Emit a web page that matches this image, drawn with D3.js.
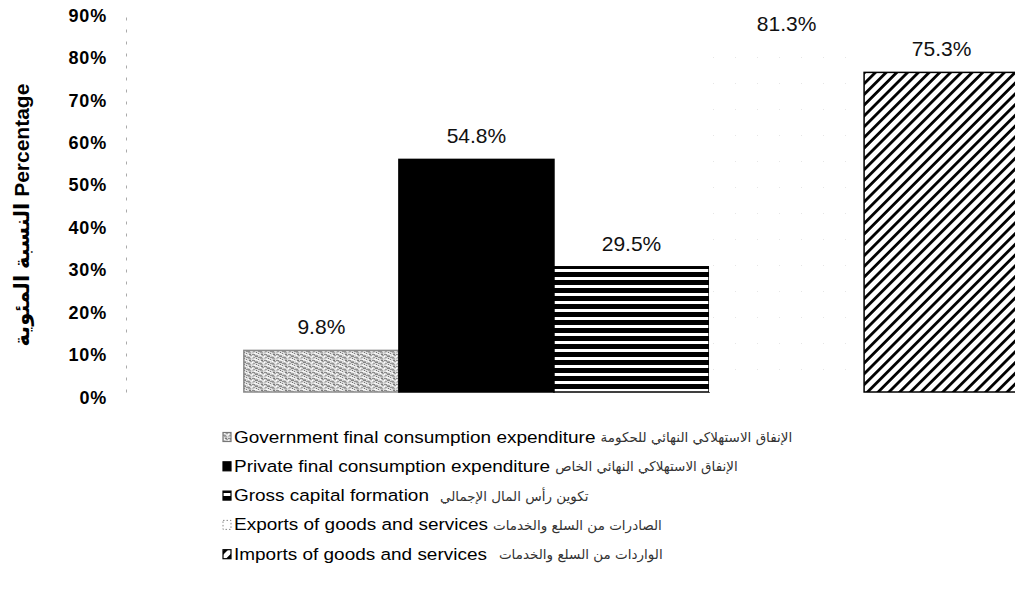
<!DOCTYPE html>
<html>
<head>
<meta charset="utf-8">
<script src="https://cdn.jsdelivr.net/npm/d3@7"></script>
<style>
  body { margin: 0; background: #fff; }
  svg { display: block; }
</style>
</head>
<body>
<svg id="chart" width="1015" height="605"></svg>
<script>
// GDP by expenditure components, share of GDP (%)
const categories = ["government", "private", "capital", "exports", "imports"];
const values = [9.8, 54.8, 29.5, 81.3, 75.3];
const valueLabels = ["9.8%", "54.8%", "29.5%", "81.3%", "75.3%"];
const legendEnglish = [
  "Government final consumption expenditure",
  "Private final consumption expenditure",
  "Gross capital formation",
  "Exports of goods and services",
  "Imports of goods and services"
];
const legendArabic = [
  "الإنفاق الاستهلاكي النهائي للحكومة",
  "الإنفاق الاستهلاكي النهائي الخاص",
  "تكوين رأس المال الإجمالي",
  "الصادرات من السلع والخدمات",
  "الواردات من السلع والخدمات"
];
const yTicks = [0, 10, 20, 30, 40, 50, 60, 70, 80, 90];
const yTitle = "النسبة المئوية Percentage";

const svg = d3.select("#chart");
const defs = svg.append("defs");

// Grainy grey texture for government consumption
const grain = defs.append("pattern")
  .attr("id", "fill-government").attr("patternUnits", "userSpaceOnUse")
  .attr("width", 12).attr("height", 6);
grain.append("rect").attr("width", 12).attr("height", 6).attr("fill", "#dcdcdc");
[[0,0,3,1,"#8c8c8c"],[5,0,2,1,"#f2f2f2"],[9,0,2,1,"#7a7a7a"],
 [2,1,4,1,"#a6a6a6"],[8,1,1,1,"#fff"],[10,1,2,1,"#a0a0a0"],
 [0,2,1,1,"#fff"],[3,2,3,1,"#858585"],[7,2,2,1,"#c4c4c4"],
 [1,3,2,1,"#a3a3a3"],[6,3,4,1,"#939393"],[11,3,1,1,"#eee"],
 [0,4,2,1,"#c4c4c4"],[4,4,1,1,"#707070"],[8,4,3,1,"#a8a8a8"],
 [2,5,3,1,"#f5f5f5"],[6,5,1,1,"#808080"],[9,5,2,1,"#bababa"]]
  .forEach(([x, y, w, h, c]) => grain.append("rect")
    .attr("x", x).attr("y", y).attr("width", w).attr("height", h).attr("fill", c));

// Horizontal stripes for gross capital formation
const stripes = defs.append("pattern")
  .attr("id", "fill-capital").attr("patternUnits", "userSpaceOnUse")
  .attr("width", 8).attr("height", 8);
stripes.append("rect").attr("width", 8).attr("height", 8).attr("fill", "#fff");
stripes.append("rect").attr("width", 8).attr("height", 5).attr("fill", "#000");

// Very sparse, pale dots for exports
const dots = defs.append("pattern")
  .attr("id", "fill-exports").attr("patternUnits", "userSpaceOnUse")
  .attr("width", 22).attr("height", 26);
dots.append("rect").attr("width", 22).attr("height", 26).attr("fill", "#fff");
dots.append("rect").attr("x", 9).attr("y", 5).attr("width", 1).attr("height", 1).attr("fill", "#e6e6e6");

// Diagonal hatch for imports
const hatch = defs.append("pattern")
  .attr("id", "fill-imports").attr("patternUnits", "userSpaceOnUse")
  .attr("width", 7.6).attr("height", 7.6)
  .attr("patternTransform", "rotate(45)");
hatch.append("rect").attr("width", 7.6).attr("height", 7.6).attr("fill", "#fff");
hatch.append("rect").attr("width", 2.8).attr("height", 7.6).attr("fill", "#000");

const fills = {
  government: "url(#fill-government)",
  private: "#000",
  capital: "url(#fill-capital)",
  exports: "url(#fill-exports)",
  imports: "url(#fill-imports)"
};
const strokes = {
  government: "#8a8a8a",
  private: "#000",
  capital: "#000",
  exports: "none",
  imports: "#000"
};

// Scales
const x = d3.scaleBand().domain(categories).range([126, 1137])
  .paddingInner(0).paddingOuter(0.76);
const y = d3.scaleLinear().domain([0, 90]).range([392, 10]);

// Y axis: faint dashed spine, bold percentage labels
const yAxis = svg.append("g")
  .attr("transform", "translate(126,0)")
  .call(d3.axisLeft(y).tickValues(yTicks).tickSize(0).tickPadding(19)
    .tickFormat(d => d + "%"));
yAxis.select(".domain").attr("stroke", "#aaa").attr("stroke-dasharray", "3,9");
yAxis.selectAll("text")
  .attr("font-family", "Liberation Sans, Arial, sans-serif")
  .attr("font-size", 18).attr("font-weight", "bold")
  .attr("letter-spacing", 0.8)
  .attr("fill", "#000").attr("dy", "0.62em");

// Y axis title
svg.append("text")
  .attr("transform", "translate(29,215) rotate(-90)")
  .attr("text-anchor", "middle")
  .attr("font-family", "Liberation Sans, Arial, DejaVu Sans, sans-serif")
  .attr("font-size", 21).attr("font-weight", "bold")
  .text(yTitle);

// Bars
svg.append("g").selectAll("rect")
  .data(categories)
  .join("rect")
  .attr("x", d => x(d))
  .attr("y", (d, i) => y(values[i]))
  .attr("width", x.bandwidth())
  .attr("height", (d, i) => y(0) - y(values[i]))
  .attr("fill", d => fills[d])
  .attr("stroke", d => strokes[d])
  .attr("stroke-width", 1.5);

// Value labels
svg.append("g").selectAll("text")
  .data(categories)
  .join("text")
  .attr("x", d => x(d) + x.bandwidth() / 2)
  .attr("y", (d, i) => y(values[i]) - 16)
  .attr("text-anchor", "middle")
  .attr("font-family", "Liberation Sans, Arial, sans-serif")
  .attr("font-size", 21)
  .attr("fill", "#111")
  .text((d, i) => valueLabels[i]);

// Legend
const legendTop = 437, legendStep = 29.3, stretch = 1.15;
const arabicGap = [5, 5, 11, 5, 12];
const legend = svg.append("g");
categories.forEach((c, i) => {
  const cy = legendTop + i * legendStep;
  const row = legend.append("g");
  if (c === "exports") {
    row.append("rect").attr("x", 223).attr("y", cy - 4.5)
      .attr("width", 8).attr("height", 9).attr("fill", "#fff")
      .attr("stroke", "#888").attr("stroke-width", 1).attr("stroke-dasharray", "1.5,2");
  } else {
    row.append("rect").attr("x", 223).attr("y", cy - 4.5)
      .attr("width", 8).attr("height", 9)
      .attr("fill", fills[c])
      .attr("stroke", c === "government" ? "#777" : "#000").attr("stroke-width", 1.2);
  }
  const eng = row.append("text")
    .attr("transform", `translate(234,${cy + 5.5}) scale(${stretch},1)`)
    .attr("font-family", "Liberation Sans, Arial, sans-serif")
    .attr("font-size", 16.5).attr("fill", "#000")
    .text(legendEnglish[i]);
  const w = eng.node().getComputedTextLength() * stretch;
  row.append("text")
    .attr("x", 234 + w + arabicGap[i]).attr("y", cy + 5)
    .attr("direction", "rtl").attr("text-anchor", "end")
    .attr("font-family", "DejaVu Sans, Noto Sans, sans-serif")
    .attr("font-size", 13.5).attr("fill", "#333")
    .text(legendArabic[i]);
});
</script>
</body>
</html>
